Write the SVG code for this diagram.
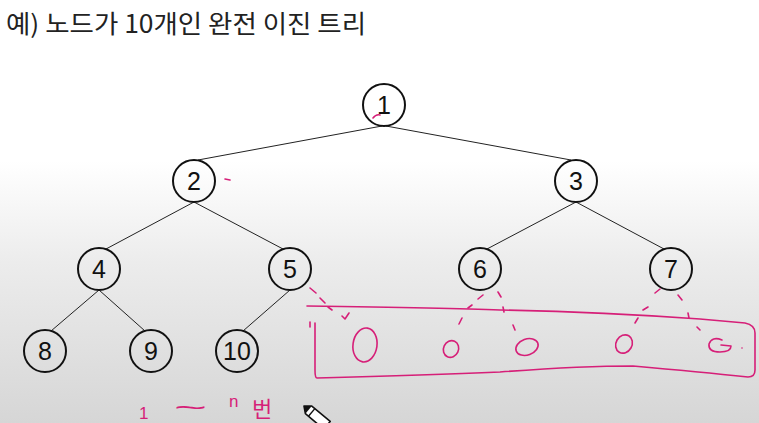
<svg xmlns="http://www.w3.org/2000/svg" width="759" height="423" viewBox="0 0 759 423">
<defs>
<linearGradient id="bg" gradientUnits="userSpaceOnUse" x1="0" y1="0" x2="0" y2="423">
<stop offset="0" stop-color="#ffffff"/>
<stop offset="0.38" stop-color="#ffffff"/>
<stop offset="0.62" stop-color="#ececec"/>
<stop offset="1" stop-color="#d6d6d6"/>
</linearGradient>
<style>
.node circle{fill:none;stroke:#111;stroke-width:2}
.node text{font-family:"Liberation Sans",Arial,sans-serif;font-size:25px;fill:#111;text-anchor:middle}
.edge{stroke:#222;stroke-width:1;fill:none}
.pk{stroke:#d61f78;stroke-width:1.6;fill:none;stroke-linecap:round;stroke-linejoin:round}
.pkt{fill:#d61f78;font-family:"Liberation Sans","Noto Sans CJK KR",sans-serif}
</style>
</defs>
<rect width="759" height="423" fill="url(#bg)"/>
<text x="6" y="33" font-family="'Noto Sans CJK KR','Liberation Sans',sans-serif" font-size="25" fill="#222" textLength="360" lengthAdjust="spacingAndGlyphs">예) 노드가 10개인 완전 이진 트리</text>

<g id="connectors">
<line class="edge" x1="382" y1="126" x2="198" y2="160"/>
<line class="edge" x1="386" y1="126" x2="571" y2="160"/>
<line class="edge" x1="194" y1="202" x2="106" y2="249"/>
<line class="edge" x1="194" y1="202" x2="283" y2="249"/>
<line class="edge" x1="576" y1="202" x2="487" y2="249"/>
<line class="edge" x1="576" y1="202" x2="664" y2="249"/>
<line class="edge" x1="99" y1="290" x2="51" y2="331"/>
<line class="edge" x1="99" y1="290" x2="145" y2="331"/>
<line class="edge" x1="290" y1="290" x2="243" y2="331"/>
</g>

<g id="n1" class="node"><circle cx="384" cy="105" r="21"/><text x="384" y="114">1</text></g>
<g id="n2" class="node"><circle cx="194" cy="181" r="21"/><text x="194" y="190">2</text></g>
<g id="n3" class="node"><circle cx="576" cy="181" r="21"/><text x="576" y="190">3</text></g>
<g id="n4" class="node"><circle cx="99" cy="269" r="21"/><text x="99" y="278">4</text></g>
<g id="n5" class="node"><circle cx="290" cy="269" r="21"/><text x="290" y="278">5</text></g>
<g id="n6" class="node"><circle cx="480" cy="269" r="21"/><text x="480" y="278">6</text></g>
<g id="n7" class="node"><circle cx="671" cy="269" r="21"/><text x="671" y="278">7</text></g>
<g id="n8" class="node"><circle cx="45" cy="351" r="21"/><text x="45" y="360">8</text></g>
<g id="n9" class="node"><circle cx="151" cy="351" r="21"/><text x="151" y="360">9</text></g>
<g id="n10" class="node"><circle cx="237" cy="351" r="21"/><text x="237" y="360">10</text></g>

<g id="annotations">
<path class="pk" d="M373 118 Q376 114 380 115"/>
<path class="pk" d="M225 179 L230 180"/>
<path class="pk" d="M307 306 Q450 308 500 310 Q600 312 700 319 L745 323 Q755 325 755 333 L755 370 Q755 377 748 377 Q700 372 633 366 Q580 366 500 372 Q430 375 317 378 Q315 378 315 370 L315 323"/>
<path class="pk" d="M310 322 L310 327"/>
<path class="pk" d="M310 288 L316 293 M320 298 L325 303 M328 307 L332 310 M342 316 L345 319 L349 313"/>
<path class="pk" d="M483 295 L478 299 M472 305 L468 308 M462 318 L459 324"/>
<path class="pk" d="M498 292 L501 297 M503 307 L504 312 M513 325 L515 330"/>
<path class="pk" d="M660 289 L655 293 M648 307 L643 310 M638 318 L635 323"/>
<path class="pk" d="M678 295 L682 300 M688 313 L689 318 M697 327 L700 330"/>
<ellipse class="pk" cx="365" cy="345" rx="12" ry="17" transform="rotate(8 365 345)"/>
<ellipse class="pk" cx="451" cy="349" rx="7.5" ry="8.5" transform="rotate(25 451 349)"/>
<ellipse class="pk" cx="527" cy="347" rx="11.5" ry="8" transform="rotate(-20 527 347)"/>
<ellipse class="pk" cx="624" cy="344" rx="8" ry="9.5" transform="rotate(30 624 344)"/>
<path class="pk" d="M722 340 Q712 336 709 344 Q708 352 720 352 Q731 352 731 346 L721 345"/>
<circle cx="742" cy="348" r="0.8" fill="#d61f78"/>
<text class="pkt" x="139" y="419" font-size="17">1</text>
<text class="pkt" x="174" y="416" font-size="24" textLength="33" lengthAdjust="spacingAndGlyphs">~</text>
<text class="pkt" x="229" y="407" font-size="17">n</text>
<text class="pkt" x="252" y="417" font-size="22" font-family="'Noto Sans CJK KR',sans-serif">번</text>
<g id="cursor" transform="translate(304 406) rotate(40)">
<path d="M0 0 L6 -5 L30 -5 L30 5 L6 5 Z" fill="#fff" stroke="#111" stroke-width="1.6" stroke-linejoin="round"/>
<path d="M0 0 L6 -5 L6 5 Z" fill="#111"/>
<line x1="10" y1="-5" x2="10" y2="5" stroke="#111" stroke-width="1.4"/>
</g>
</g>
</svg>
